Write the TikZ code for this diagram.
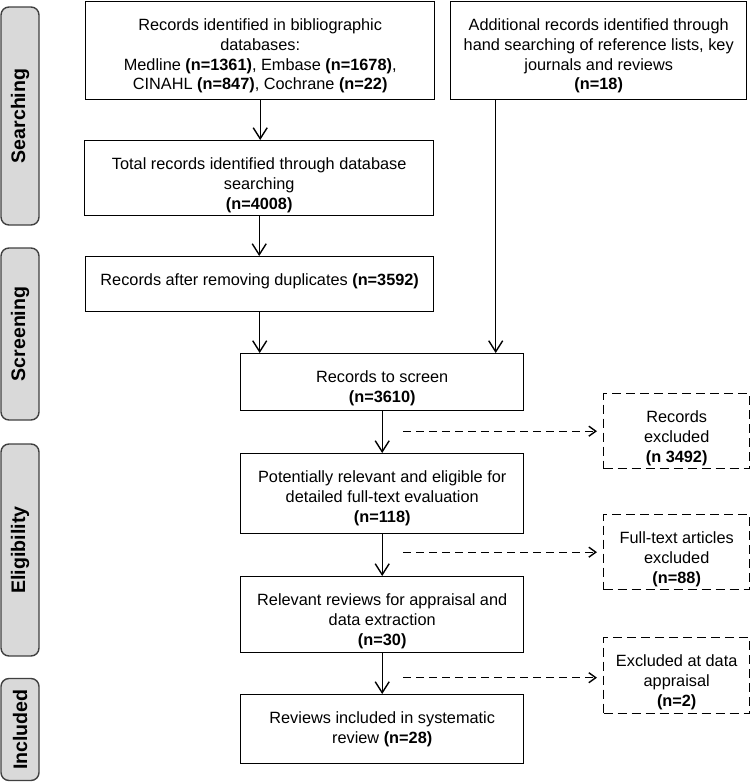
\documentclass[tikz,border=0pt]{standalone}
\usepackage{fontspec}
\setmainfont{Liberation Sans}
\usetikzlibrary{arrows.meta,calc}
\definecolor{tabfill}{HTML}{D9D9D9}
\definecolor{tabline}{HTML}{404040}
\newcommand{\bxt}[3]{\parbox[b][#2][t]{#1}{\centering\rule{0pt}{29pt}#3}}
\tikzset{
  box/.style={draw=black,line width=1.4pt,rectangle,inner sep=0pt,anchor=north west,font=\fontsize{16.3}{19.7}\selectfont},
  dbox/.style={box,dash pattern=on 9pt off 5pt,line width=1.4pt},
  tab/.style={draw=tabline,fill=tabfill,line width=1.4pt,rounded corners=8pt,font=\bfseries\fontsize{19.6}{22}\selectfont,rotate=90},
  arr/.style={line width=1.4pt,-{Straight Barb[length=11pt,width=14pt,line width=1.4pt]}},
  darr/.style={line width=1.4pt,dash pattern=on 8pt off 5pt,-{Straight Barb[length=7pt,width=10pt,line width=1.4pt]},shorten >=6pt}
}
\begin{document}
\begin{tikzpicture}[x=1pt,y=-1pt]
\useasboundingbox (0,0) rectangle (750,782);
% phase tabs
\node[tab,minimum height=38pt,minimum width=218pt] (t1) at (20,116) {Searching};
\node[tab,minimum height=38pt,minimum width=172pt] (t2) at (20,334) {Screening};
\node[tab,minimum height=38pt,minimum width=212pt] (t3) at (20,550) {Eligibility};
\node[tab,minimum height=38pt,minimum width=102pt] (t4) at (20,729.5) {Included};
% boxes
\node[box] (b1) at (85,1) {\bxt{349pt}{98pt}{Records identified in bibliographic\\databases:\\Medline \textbf{(n=1361)}, Embase \textbf{(n=1678)},\\CINAHL \textbf{(n=847)}, Cochrane \textbf{(n=22)}}};
\node[box] (add) at (450,1) {\bxt{296pt}{98pt}{Additional records identified through\\hand searching of reference lists, key\\journals and reviews\\\textbf{(n=18)}}};
\node[box] (b2) at (84,140) {\bxt{349pt}{75pt}{Total records identified through database\\searching\\\textbf{(n=4008)}}};
\node[box] (b3) at (85,256) {\bxt{348pt}{55pt}{Records after removing duplicates \textbf{(n=3592)}}};
\node[box] (b4) at (240,353) {\bxt{283pt}{57pt}{Records to screen\\\textbf{(n=3610)}}};
\node[box] (b5) at (240,453) {\bxt{283pt}{80pt}{Potentially relevant and eligible for\\detailed full-text evaluation\\\textbf{(n=118)}}};
\node[box] (b6) at (240,576) {\bxt{283pt}{76pt}{Relevant reviews for appraisal and\\data extraction\\\textbf{(n=30)}}};
\node[box] (b7) at (240,694) {\bxt{283pt}{69pt}{Reviews included in systematic\\review \textbf{(n=28)}}};
% excluded boxes
\node[dbox] (d1) at (603,393) {\bxt{146pt}{75pt}{Records\\excluded\\\textbf{(n 3492)}}};
\node[dbox] (d2) at (603,514) {\bxt{146pt}{75pt}{Full-text articles\\excluded\\\textbf{(n=88)}}};
\node[dbox] (d3) at (603,637) {\bxt{146pt}{76pt}{Excluded at data\\appraisal\\\textbf{(n=2)}}};
% arrows
\draw[arr] (b1.south) -- (b1.south |- b2.north);
\draw[arr] (b2.south) -- (b2.south |- b3.north);
\draw[arr] (b3.south) -- (b3.south |- b4.north);
\draw[arr] ([xshift=-103pt]add.south) -- ([xshift=-103pt]add.south |- b4.north);
\draw[arr] (b4.south) -- (b5.north);
\draw[arr] (b5.south) -- (b6.north);
\draw[arr] (b6.south) -- (b7.north);
\draw[darr] ([xshift=-200pt]d1.west) -- (d1.west);
\draw[darr] ([xshift=-200pt]d2.west) -- (d2.west);
\draw[darr] ([xshift=-200pt,yshift=-2pt]d3.west) -- ([yshift=-2pt]d3.west);
\end{tikzpicture}
\end{document}
